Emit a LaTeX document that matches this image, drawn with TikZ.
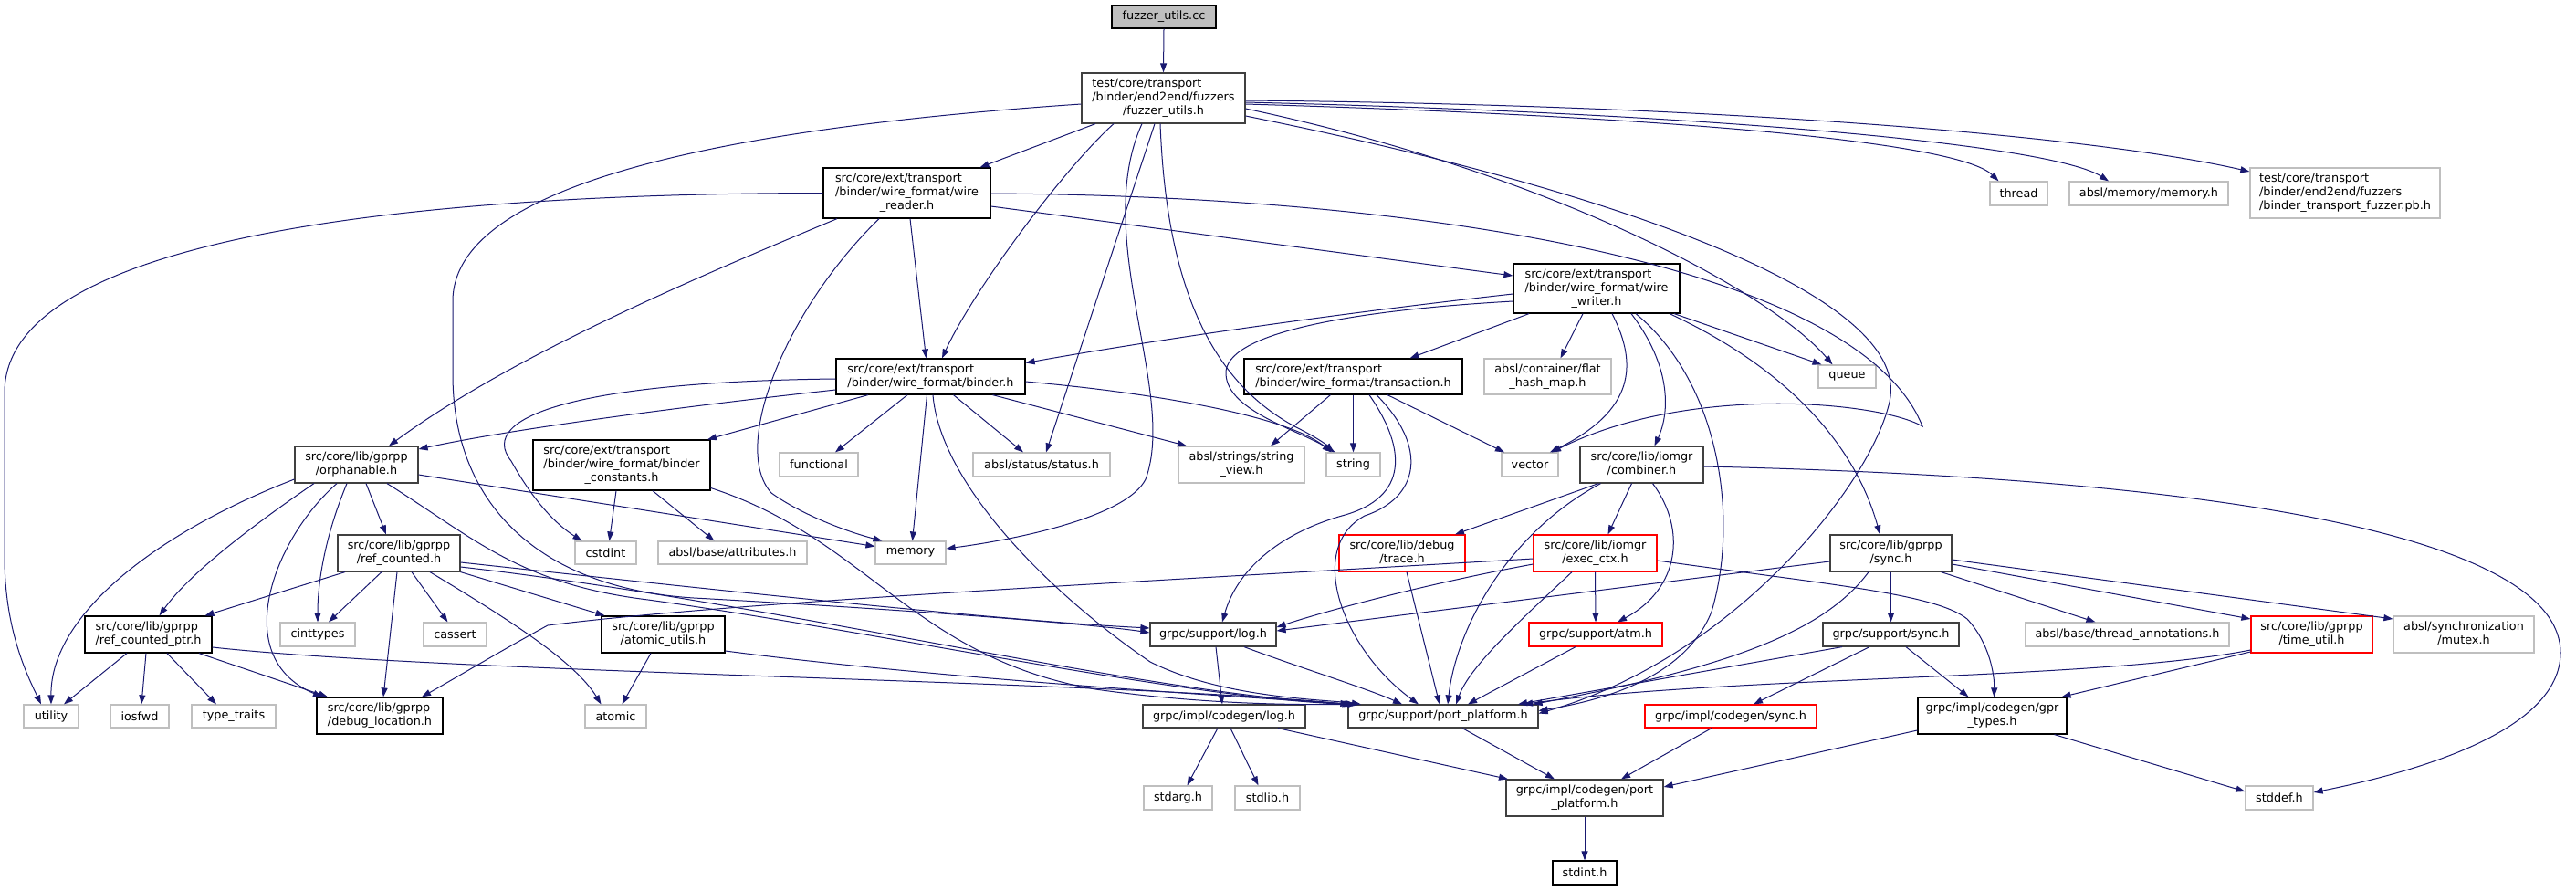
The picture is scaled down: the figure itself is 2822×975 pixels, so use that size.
\documentclass[tikz,border=0pt]{standalone}
\usepackage{fontspec}
\setmainfont{DejaVu Sans}
\usetikzlibrary{arrows.meta,calc}
\definecolor{eblue}{HTML}{191970}
\definecolor{sysgray}{HTML}{BFBFBF}
\definecolor{rootfill}{HTML}{BFBFBF}
\definecolor{dgray}{HTML}{404040}
\newcommand{\nfont}{\fontsize{12.8}{15}\selectfont}
\newcommand{\lbl}[2]{\begin{tabular}{@{}l@{}}#1\\\multicolumn{1}{@{}c@{}}{#2}\end{tabular}}
\tikzset{
  nb/.style={draw=black, line width=1.2pt, rectangle, inner sep=0pt, font=\nfont, text=black},
  ng/.style={nb, draw=dgray},
  ns/.style={nb, draw=sysgray},
  nr/.style={nb, draw=red},
  nroot/.style={nb, fill=rootfill},
  sz/.style 2 args={minimum width=#1pt, minimum height=#2pt},
  edge/.style={draw=eblue, line width=1pt, -{Triangle[length=10pt,width=7pt]}},
}
\begin{document}
\begin{tikzpicture}[x=1pt,y=-1pt]
\fill[white] (0,0) rectangle (2822,975);
\useasboundingbox (0,0) rectangle (2822,975);

% ---------- nodes ----------
\node[nroot, sz={114}{25}] (cc) at (1275,18.5) {fuzzer\_utils.cc};
\node[ng, sz={179}{55}] (FU) at (1274.5,107.5) {\lbl{test/core/transport\\/binder/end2end/fuzzers}{/fuzzer\_utils.h}};
\node[nb, sz={183}{55}] (WR) at (993.5,211.5) {\lbl{src/core/ext/transport\\/binder/wire\_format/wire}{\_reader.h}};
\node[nb, sz={182}{54}] (WW) at (1749,316) {\lbl{src/core/ext/transport\\/binder/wire\_format/wire}{\_writer.h}};
\node[nb, sz={207}{39}] (binder) at (1019.5,412.5) {\lbl{src/core/ext/transport}{/binder/wire\_format/binder.h}};
\node[nb, sz={239}{39}] (trans) at (1482.5,412.5) {\lbl{src/core/ext/transport}{/binder/wire\_format/transaction.h}};
\node[ns, sz={139}{39}] (fhm) at (1695.5,412.5) {\lbl{absl/container/flat}{\_hash\_map.h}};
\node[ns, sz={63}{25}] (queue) at (2023.5,412.5) {queue};
\node[ns, sz={63}{26}] (thread) at (2211.5,212) {thread};
\node[ns, sz={174}{26}] (amem) at (2354,212) {absl/memory/memory.h};
\node[ns, sz={208}{55}] (pb) at (2569,211.5) {\lbl{test/core/transport\\/binder/end2end/fuzzers}{/binder\_transport\_fuzzer.pb.h}};

\node[ng, sz={135}{40}] (orph) at (390.5,509) {\lbl{src/core/lib/gprpp}{/orphanable.h}};
\node[nb, sz={194}{55}] (bconst) at (681,509.5) {\lbl{src/core/ext/transport\\/binder/wire\_format/binder}{\_constants.h}};
\node[ns, sz={86}{26}] (func) at (897,509) {functional};
\node[ns, sz={150}{26}] (status) at (1141,509) {absl/status/status.h};
\node[ns, sz={138}{40}] (sview) at (1360,509) {\lbl{absl/strings/string}{\_view.h}};
\node[ns, sz={59}{26}] (string) at (1482.5,509) {string};
\node[ns, sz={62}{26}] (vector) at (1676,509) {vector};
\node[ng, sz={135}{40}] (comb) at (1798.5,509) {\lbl{src/core/lib/iomgr}{/combiner.h}};

\node[ns, sz={67}{25}] (cstdint) at (663.5,605.5) {cstdint};
\node[ns, sz={163}{25}] (attr) at (802.5,605.5) {absl/base/attributes.h};
\node[ns, sz={77}{25}] (memory) at (997.5,605.5) {memory};
\node[ng, sz={134}{40}] (refc) at (437,606) {\lbl{src/core/lib/gprpp}{/ref\_counted.h}};
\node[nr, sz={138}{40}] (trace) at (1536,606) {\lbl{src/core/lib/debug}{/trace.h}};
\node[nr, sz={135}{40}] (exec) at (1747.5,606) {\lbl{src/core/lib/iomgr}{/exec\_ctx.h}};
\node[ng, sz={133}{40}] (gsync) at (2071.5,606) {\lbl{src/core/lib/gprpp}{/sync.h}};

\node[nb, sz={139}{40}] (rcp) at (162.5,695) {\lbl{src/core/lib/gprpp}{/ref\_counted\_ptr.h}};
\node[ns, sz={82}{26}] (cint) at (348,695) {cinttypes};
\node[ns, sz={69}{26}] (cassert) at (498.5,695) {cassert};
\node[nb, sz={135}{40}] (autil) at (726.5,695) {\lbl{src/core/lib/gprpp}{/atomic\_utils.h}};
\node[ng, sz={138}{26}] (log) at (1329,695) {grpc/support/log.h};
\node[nr, sz={146}{26}] (atm) at (1748,695) {grpc/support/atm.h};
\node[ng, sz={149}{26}] (ssync) at (2071.5,695) {grpc/support/sync.h};
\node[ns, sz={223}{26}] (tann) at (2330.5,695) {absl/base/thread\_annotations.h};
\node[nr, sz={133}{40}] (tutil) at (2532.5,695) {\lbl{src/core/lib/gprpp}{/time\_util.h}};
\node[ns, sz={154}{40}] (mutex) at (2699,695) {\lbl{absl/synchronization}{/mutex.h}};

\node[ns, sz={60}{25}] (utility) at (56,784.5) {utility};
\node[ns, sz={64}{25}] (iosfwd) at (153,784.5) {iosfwd};
\node[ns, sz={92}{25}] (ttraits) at (256,784.5) {type\_traits};
\node[nb, sz={138}{40}] (dloc) at (416,784) {\lbl{src/core/lib/gprpp}{/debug\_location.h}};
\node[ns, sz={67}{25}] (atomic) at (674.5,784.5) {atomic};
\node[ng, sz={178}{25}] (clog) at (1341,784.5) {grpc/impl/codegen/log.h};
\node[ng, sz={208}{25}] (pp) at (1581,784.5) {grpc/support/port\_platform.h};
\node[nr, sz={188}{25}] (csync) at (1896,784.5) {grpc/impl/codegen/sync.h};
\node[nb, sz={163}{40}] (gpr) at (2182.5,784) {\lbl{grpc/impl/codegen/gpr}{\_types.h}};

\node[ns, sz={75}{26}] (stdarg) at (1290.5,874) {stdarg.h};
\node[ns, sz={71}{26}] (stdlib) at (1388.5,874) {stdlib.h};
\node[ng, sz={172}{40}] (cpp) at (1736,874) {\lbl{grpc/impl/codegen/port}{\_platform.h}};
\node[ns, sz={74}{26}] (stddef) at (2497,874) {stddef.h};
\node[nb, sz={70}{26}] (stdint) at (1736,956) {stdint.h};

% ---------- edges ----------
\draw[edge] (cc.south) -- (FU.north);
% fuzzer_utils.h
\draw[edge] ([xshift=-74.5pt]FU.south) -- ([xshift=80pt]WR.north);
\draw[edge] ([xshift=-54.5pt]FU.south) .. controls (1165,185) and (1065,320) .. ([xshift=12.5pt]binder.north);
\draw[edge] ([xshift=-9.5pt]FU.south) -- ([xshift=5pt]status.north);
\draw[edge] ([xshift=-23.5pt]FU.south) .. controls (1195,260) and (1290,430) .. (1255,525) .. controls (1235,565) and (1120,590) .. ([yshift=4.5pt]memory.east);
\draw[edge] ([xshift=-3.5pt]FU.south) .. controls (1278,320) and (1330,420) .. (1420,468) .. controls (1440,478) and (1452,486) .. ([xshift=-22pt]string.north);
\draw[edge] ([yshift=-11.5pt]FU.east) .. controls (1700,190) and (1940,320) .. ([xshift=-16pt]queue.north);
\draw[edge] ([yshift=-19.5pt]FU.east) .. controls (1800,215) and (2095,330) .. (2070,440) .. controls (2050,530) and (1900,720) .. ([yshift=3pt]pp.east);
\draw[edge] ([yshift=-6.5pt]FU.east) .. controls (1900,130) and (2150,160) .. ([xshift=-22pt]thread.north);
\draw[edge] ([yshift=-4.5pt]FU.east) .. controls (1900,125) and (2250,160) .. ([xshift=-44pt]amem.north);
\draw[edge] ([yshift=-2.5pt]FU.east) .. controls (1900,115) and (2300,150) .. ([yshift=23.5pt]pb.west);
\draw[edge] ([yshift=-6.5pt]FU.west) .. controls (800,140) and (496,200) .. (496,330) -- (496,410) .. controls (496,560) and (600,645) .. (760,655) .. controls (1000,668) and (1200,684) .. ([yshift=2pt]log.west);
% wire_reader.h
\draw[edge] (WR.west) .. controls (450,212) and (5,260) .. (5,430) -- (5,610) .. controls (5,690) and (30,740) .. ([xshift=-11pt]utility.north);
\draw[edge] ([xshift=-76.5pt]WR.south) .. controls (760,305) and (560,390) .. ([xshift=35.5pt]orph.north);
\draw[edge] ([xshift=-30.5pt]WR.south) .. controls (860,340) and (800,490) .. (845,540) .. controls (880,565) and (930,583) .. ([xshift=-31pt]memory.north);
\draw[edge] ([xshift=3.5pt]WR.south) -- ([xshift=-5pt]binder.north);
\draw[edge] ([yshift=-14.5pt]WR.east) -- ([yshift=14pt]WW.west);
\draw[edge] ([yshift=-0.5pt]WR.east) .. controls (1600,215) and (2040,300) .. (2106,467) .. controls (2060,440) and (1850,420) .. ([xshift=24pt]vector.north);
% binder.h
\draw[edge] ([yshift=-14.5pt]binder.west) .. controls (750,445) and (560,470) .. ([yshift=17pt]orph.east);
\draw[edge] ([yshift=-2.5pt]binder.west) .. controls (640,418) and (520,455) .. (560,505) .. controls (585,550) and (610,575) .. ([xshift=-26pt]cstdint.north);
\draw[edge] ([xshift=-68.5pt]binder.south) -- ([xshift=94pt]bconst.north);
\draw[edge] ([xshift=-25.5pt]binder.south) -- ([xshift=18pt]func.north);
\draw[edge] ([xshift=-4pt]binder.south) -- ([xshift=2pt]memory.north);
\draw[edge] ([xshift=2.5pt]binder.south) .. controls (1030,530) and (1150,650) .. (1260,725) .. controls (1340,765) and (1450,766) .. ([xshift=-90pt]pp.north);
\draw[edge] ([xshift=25pt]binder.south) -- ([xshift=-20pt]status.north);
\draw[edge] ([xshift=68pt]binder.south) -- ([xshift=-60pt]sview.north);
\draw[edge] ([yshift=-5.5pt]binder.east) .. controls (1260,430) and (1410,455) .. ([xshift=-24pt]string.north);
% wire_writer.h
\draw[edge] ([yshift=-6pt]WW.west) .. controls (1450,345) and (1250,375) .. ([yshift=15pt]binder.east);
\draw[edge] ([yshift=-14pt]WW.west) .. controls (1480,340) and (1340,365) .. (1343,410) .. controls (1345,450) and (1420,470) .. ([xshift=-20pt]string.north);
\draw[edge] ([xshift=-74pt]WW.south) -- ([xshift=62pt]trans.north);
\draw[edge] ([xshift=-15pt]WW.south) -- ([xshift=14pt]fhm.north);
\draw[edge] ([xshift=17pt]WW.south) .. controls (1795,400) and (1790,450) .. ([xshift=22pt]vector.north);
\draw[edge] ([xshift=38pt]WW.south) .. controls (1830,400) and (1830,450) .. ([xshift=14pt]comb.north);
\draw[edge] ([xshift=43pt]WW.south) .. controls (1885,420) and (1905,570) .. (1875,670) .. controls (1845,745) and (1750,768) .. ([yshift=6pt]pp.east);
\draw[edge] ([xshift=85pt]WW.south) -- ([xshift=-28pt]queue.north);
\draw[edge] ([xshift=80pt]WW.south) .. controls (1950,400) and (2030,480) .. ([xshift=-12pt]gsync.north);
% transaction.h
\draw[edge] ([xshift=-25pt]trans.south) -- ([xshift=32pt]sview.north);
\draw[edge] (trans.south) -- (string.north);
\draw[edge] ([xshift=17.5pt]trans.south) .. controls (1540,490) and (1545,545) .. (1470,565) .. controls (1400,585) and (1355,625) .. ([xshift=10pt]log.north);
\draw[edge] ([xshift=25.5pt]trans.south) .. controls (1565,490) and (1555,545) .. (1495,565) .. controls (1430,600) and (1470,710) .. ([xshift=-27pt]pp.north);
\draw[edge] ([xshift=37.5pt]trans.south) -- ([xshift=-28pt]vector.north);
% orphanable.h
\draw[edge] ([yshift=-16pt]orph.west) .. controls (180,580) and (55,670) .. (utility.north);
\draw[edge] ([xshift=-46.5pt]orph.south) .. controls (285,570) and (210,625) .. ([xshift=12pt]rcp.north);
\draw[edge] ([xshift=-21.5pt]orph.south) .. controls (300,590) and (250,720) .. ([xshift=-63pt]dloc.north);
\draw[edge] ([xshift=-10.5pt]orph.south) .. controls (355,590) and (348,640) .. (cint.north);
\draw[edge] ([xshift=10.5pt]orph.south) -- ([xshift=-14pt]refc.north);
\draw[edge] ([xshift=33.5pt]orph.south) .. controls (520,590) and (570,640) .. (710,657) .. controls (950,690) and (1300,765) .. ([xshift=4pt]pp.north west);
\draw[edge] ([yshift=-11pt]orph.east) -- ([yshift=7pt]memory.west);
% ref_counted.h
\draw[edge] ([xshift=-59pt]refc.south) -- ([xshift=62pt]rcp.north);
\draw[edge] ([xshift=-19pt]refc.south) -- ([xshift=12pt]cint.north);
\draw[edge] ([xshift=-2pt]refc.south) -- ([xshift=4pt]dloc.north);
\draw[edge] ([xshift=14pt]refc.south) -- ([xshift=-8pt]cassert.north);
\draw[edge] ([xshift=34pt]refc.south) .. controls (560,680) and (630,725) .. ([xshift=-16pt]atomic.north);
\draw[edge] (refc.south east) -- ([xshift=-64pt]autil.north);
\draw[edge] ([yshift=-10pt]refc.east) .. controls (800,648) and (1100,680) .. ([yshift=7pt]log.west);
\draw[edge] ([yshift=-15pt]refc.east) .. controls (850,660) and (1250,760) .. ([xshift=6pt]pp.north west);
% ref_counted_ptr.h
\draw[edge] ([xshift=-23.5pt]rcp.south) -- ([xshift=14pt]utility.north);
\draw[edge] ([xshift=-2.5pt]rcp.south) -- ([xshift=2pt]iosfwd.north);
\draw[edge] ([xshift=20.5pt]rcp.south) -- ([xshift=-19pt]ttraits.north);
\draw[edge] ([xshift=55.5pt]rcp.south) -- ([xshift=-57pt]dloc.north);
\draw[edge] ([yshift=-14pt]rcp.east) .. controls (500,738) and (1200,745) .. ([xshift=2pt]pp.north west);
% atomic_utils.h
\draw[edge] ([xshift=-13.5pt]autil.south) -- ([xshift=7pt]atomic.north);
\draw[edge] ([yshift=-18pt]autil.east) .. controls (1000,740) and (1300,760) .. ([xshift=8pt]pp.north west);
% binder_constants.h
\draw[edge] ([xshift=-6pt]bconst.south) -- ([xshift=4pt]cstdint.north);
\draw[edge] ([xshift=34pt]bconst.south) -- ([xshift=-20pt]attr.north);
\draw[edge] ([yshift=-25pt]bconst.east) .. controls (950,590) and (1000,720) .. (1200,755) .. controls (1320,772) and (1420,772) .. ([xshift=10pt]pp.north west);
% log.h and codegen
\draw[edge] ([xshift=3pt]log.south) -- ([xshift=-2pt]clog.north);
\draw[edge] ([xshift=34pt]log.south) .. controls (1420,730) and (1500,755) .. ([xshift=-45pt]pp.north);
\draw[edge] ([xshift=-7pt]clog.south) -- ([xshift=10pt]stdarg.north);
\draw[edge] ([xshift=7pt]clog.south) -- ([xshift=-10pt]stdlib.north);
\draw[edge] ([xshift=59pt]clog.south) -- ([xshift=-84pt]cpp.north);
\draw[edge] ([xshift=21pt]pp.south) -- ([xshift=-33pt]cpp.north);
\draw[edge] ([xshift=-21pt]csync.south) -- ([xshift=40pt]cpp.north);
\draw[edge] ([yshift=-16pt]gpr.west) -- ([yshift=12pt]cpp.east);
\draw[edge] (cpp.south) -- (stdint.north);
% combiner.h
\draw[edge] ([xshift=-47.5pt]comb.south) -- ([xshift=58pt]trace.north);
\draw[edge] ([xshift=-45pt]comb.south) .. controls (1650,585) and (1595,690) .. ([xshift=5pt]pp.north);
\draw[edge] ([xshift=-11pt]comb.south) -- ([xshift=14pt]exec.north);
\draw[edge] ([xshift=12pt]comb.south) .. controls (1848,580) and (1840,645) .. ([xshift=24pt]atm.north);
\draw[edge] ([yshift=-2pt]comb.east) .. controls (2500,525) and (2805,600) .. (2805,715) .. controls (2805,800) and (2650,845) .. ([yshift=6pt]stddef.east);
% exec_ctx.h
\draw[edge] (exec.south) -- (atm.north);
\draw[edge] ([xshift=-25.5pt]exec.south) .. controls (1665,680) and (1610,730) .. ([xshift=14pt]pp.north);
\draw[edge] ([yshift=-12pt]exec.west) .. controls (1560,640) and (1450,670) .. ([yshift=8pt]log.east);
\draw[edge] ([yshift=-6pt]exec.west) .. controls (1200,640) and (800,660) .. (600,685) .. controls (545,715) and (495,745) .. ([xshift=46pt]dloc.north);
\draw[edge] ([yshift=-8pt]exec.east) .. controls (2000,640) and (2120,650) .. (2155,678) .. controls (2180,705) and (2185,740) .. ([xshift=2pt]gpr.north);
% trace.h, atm.h
\draw[edge] ([xshift=5pt]trace.south) -- ([xshift=-4pt]pp.north);
\draw[edge] ([xshift=-22pt]atm.south) -- ([xshift=27pt]pp.north);
% gprpp/sync.h
\draw[edge] ([yshift=-9pt]gsync.west) -- ([yshift=4pt]log.east);
\draw[edge] ([xshift=-24.5pt]gsync.south) .. controls (2000,690) and (1900,730) .. ([xshift=-6pt]pp.north east);
\draw[edge] (gsync.south) -- (ssync.north);
\draw[edge] ([xshift=55pt]gsync.south) -- ([xshift=-35pt]tann.north);
\draw[edge] ([yshift=-12pt]gsync.east) -- ([yshift=17pt]tutil.west);
\draw[edge] ([yshift=-7pt]gsync.east) -- ([yshift=17pt]mutex.west);
% grpc/support/sync.h
\draw[edge] ([xshift=-53.5pt]ssync.south) -- ([xshift=82pt]pp.north);
\draw[edge] ([xshift=-23.5pt]ssync.south) -- ([xshift=25pt]csync.north);
\draw[edge] ([xshift=16.5pt]ssync.south) -- ([xshift=-26pt]gpr.north);
% time_util.h
\draw[edge] ([yshift=-17pt]tutil.west) .. controls (2300,745) and (1900,740) .. ([xshift=88pt]pp.north);
\draw[edge] ([yshift=-19pt]tutil.west) -- ([xshift=76pt]gpr.north);
% gpr_types.h
\draw[edge] ([xshift=68pt]gpr.south) -- ([yshift=7pt]stddef.west);
\end{tikzpicture}
\end{document}
